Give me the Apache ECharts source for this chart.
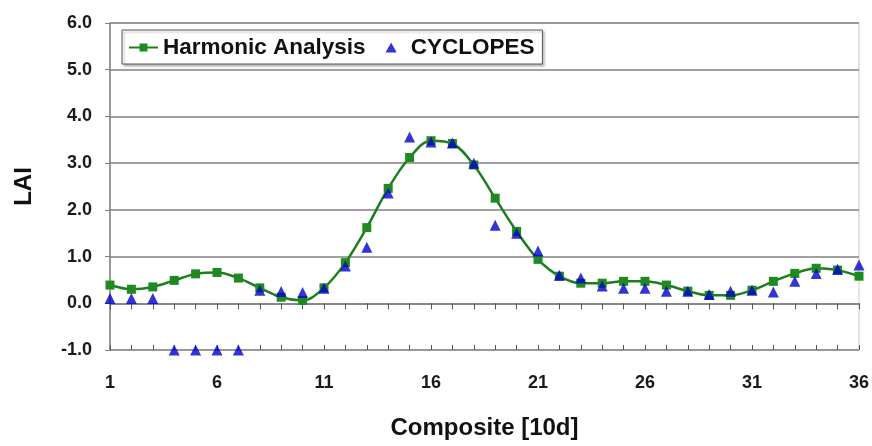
<!DOCTYPE html>
<html>
<head>
<meta charset="utf-8">
<script src="https://cdn.jsdelivr.net/npm/echarts@6/dist/echarts.min.js"></script>
<style>html,body{margin:0;padding:0;background:#fff}#c{width:872px;height:446px}</style>
</head>
<body>
<div id="c"></div>
<script>
var composites = [];
for (var i = 1; i <= 36; i++) composites.push(String(i));
var harmonic = [0.39,0.30,0.35,0.49,0.63,0.66,0.54,0.33,0.13,0.06,0.33,0.87,1.62,2.46,3.12,3.48,3.42,2.96,2.25,1.54,0.94,0.58,0.43,0.43,0.47,0.47,0.39,0.26,0.17,0.17,0.28,0.47,0.64,0.75,0.71,0.58];
var cyclopes = [0.10,0.10,0.10,-1.0,-1.0,-1.0,-1.0,0.28,0.25,0.23,0.32,0.80,1.20,2.36,3.56,3.45,3.43,3.00,1.67,1.50,1.12,0.60,0.54,0.37,0.32,0.32,0.26,0.26,0.19,0.26,0.28,0.24,0.47,0.64,0.73,0.82];
var yMin = -1, yMax = 6, yStep = 1;

var FONT = 'Liberation Sans, Arial, sans-serif';
var gridGray = '#808080';
var chart = echarts.init(document.getElementById('c'));
chart.setOption({
  animation: false,
  backgroundColor: '#fff',
  grid: {left: 110, right: 12, top: 23, bottom: 96, show: true, borderColor: '#c8c8c8', borderWidth: 1},
  legend: {
    left: 122, top: 30,
    padding: [6, 8, 5, 6],
    borderColor: '#555', borderWidth: 1,
    backgroundColor: '#fff',
    shadowColor: 'rgba(0,0,0,0.25)', shadowBlur: 2, shadowOffsetX: 2, shadowOffsetY: 2,
    itemGap: 20, itemWidth: 29, itemHeight: 10,
    symbolKeepAspect: true,
    textStyle: {fontFamily: FONT, fontWeight: 'bold', fontSize: 22.5, color: '#111'},
    data: [
      {name: 'Harmonic Analysis'},
      {name: 'CYCLOPES', icon: 'path://M5,0 L10,9 L0,9 Z'}
    ]
  },
  xAxis: [
    {
      type: 'category', data: composites, boundaryGap: false, position: 'bottom',
      axisLine: {onZero: true, lineStyle: {color: gridGray, width: 1.5}},
      axisTick: {show: true, interval: 0, length: 6, lineStyle: {color: '#555', width: 1}},
      axisLabel: {show: false},
      splitLine: {show: false}
    },
    {
      type: 'category', data: composites, boundaryGap: false, position: 'bottom',
      axisLine: {show: false, onZero: false},
      axisTick: {show: false},
      axisLabel: {interval: 4, margin: 24, fontFamily: FONT, fontWeight: 'bold', fontSize: 18, color: '#1a1a1a'},
      splitLine: {show: false},
      name: 'Composite [10d]', nameLocation: 'middle', nameGap: 66,
      nameTextStyle: {fontFamily: FONT, fontWeight: 'bold', fontSize: 24, color: '#111'}
    },
    {
      type: 'category', data: composites, boundaryGap: false, position: 'bottom',
      axisLine: {onZero: true, show: false},
      axisTick: {show: true, inside: true, interval: 0, length: 5, lineStyle: {color: '#555', width: 1}},
      axisLabel: {show: false},
      splitLine: {show: false}
    }
  ],
  yAxis: {
    type: 'value', min: yMin, max: yMax, interval: yStep,
    axisLine: {show: true, lineStyle: {color: gridGray, width: 1.5}},
    axisTick: {show: true, length: 5, lineStyle: {color: gridGray}},
    axisLabel: {formatter: function (v) { return v.toFixed(1); }, margin: 18, fontFamily: FONT, fontWeight: 'bold', fontSize: 18, color: '#1a1a1a'},
    splitLine: {show: true, lineStyle: {color: gridGray, width: 1.5}},
    name: 'LAI', nameLocation: 'middle', nameGap: 74,
    nameTextStyle: {fontFamily: FONT, fontWeight: 'bold', fontSize: 24, color: '#111'}
  },
  series: [
    {
      name: 'Harmonic Analysis', type: 'line', xAxisIndex: 0, data: harmonic,
      smooth: 0.35, symbol: 'rect', symbolSize: 9,
      lineStyle: {color: '#1e7d1e', width: 2.5},
      itemStyle: {color: '#1f8a1f', borderWidth: 0},
      z: 3
    },
    {
      name: 'CYCLOPES', type: 'scatter', xAxisIndex: 0, data: cyclopes,
      symbol: 'triangle', symbolSize: 11,
      itemStyle: {color: '#0000cc'},
      z: 4
    }
  ]
});
</script>
</body>
</html>
